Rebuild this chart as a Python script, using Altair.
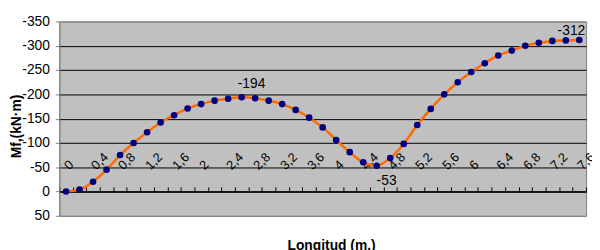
import altair as alt
import pandas as pd
import json

# Category positions along the beam (m), decimal comma as in the original
x_m = ["0", "0,2", "0,4", "0,6", "0,8", "1", "1,2", "1,4", "1,6", "1,8",
       "2", "2,2", "2,4", "2,6", "2,8", "3", "3,2", "3,4", "3,6", "3,8",
       "4", "4,2", "4,4", "4,6", "4,8", "5", "5,2", "5,4", "5,6", "5,8",
       "6", "6,2", "6,4", "6,6", "6,8", "7", "7,2", "7,4", "7,6"]

# Bending moment Mf (kN·m)
mf = [0, -4, -20, -45, -75, -100, -122, -142, -157, -171,
      -180, -187, -191, -194, -192, -187, -180, -168, -152, -132,
      -106, -81, -60, -53, -69, -98, -137, -170, -200, -225,
      -246, -264, -280, -290, -300, -306, -310, -311, -312]

# Labels shown on the category axis
tick_labels = ["0", "0,4", "0,8", "1,2", "1,6", "2", "2,4", "2,8", "3,2", "3,6",
               "4", "4,4", "4,8", "5,2", "5,6", "6", "6,4", "6,8", "7,2", "7,6"]

y_ticks = [-350, -300, -250, -200, -150, -100, -50, 0, 50]

# Annotated extremes
ann_x = ["2,6", "4,6", "7,6"]
ann_y = [-194, -53, -312]
ann_text = ["-194", "-53", "-312"]

df = pd.DataFrame({"x": x_m, "mf": mf})
ann = pd.DataFrame({"x": ann_x, "mf": ann_y, "t": ann_text})

FONT = "Liberation Sans"

xscale = alt.Scale(type="band", domain=x_m, paddingInner=0, paddingOuter=0)
yscale = alt.Scale(domain=[-350, 50], reverse=True, nice=False, zero=False)

label_expr = "indexof(" + json.dumps(tick_labels) + ", datum.label) >= 0 ? datum.label : ''"

x_axis = alt.Axis(
    orient="top", offset=-172.7, title=None,
    domainColor="#000000", domainWidth=1,
    tickColor="#000000", tickSize=5, tickBand="extent",
    labelAngle=-45, labelAlign="left", labelBaseline="middle",
    labelPadding=20, labelFont=FONT, labelFontSize=13, labelColor="#000000",
    labelExpr=label_expr, labelOverlap=False, grid=False,
)

y_axis = alt.Axis(
    values=y_ticks, tickCount=20, title="Mf,(kN·m)",
    titleFont=FONT, titleFontSize=14, titleFontWeight="bold", titleColor="#000000",
    titleX=-43, titleY=106, titleAlign="center", titleBaseline="middle", titleAngle=-90,
    labelFont=FONT, labelFontSize=14, labelColor="#000000", labelPadding=6,
    labelExpr="'' + datum.value", labelOverlap=False, labelFlush=False,
    domainColor="#808080", tickColor="#808080", tickSize=4,
    grid=True,
    gridColor=alt.condition("datum.value == -350 || datum.value == 50",
                            alt.value("#808080"), alt.value("#000000")),
    gridWidth=1,
)

base = alt.Chart(df).encode(
    x=alt.X("x:O", scale=xscale, axis=x_axis, sort=x_m),
    y=alt.Y("mf:Q", scale=yscale, axis=y_axis),
)

line = base.mark_line(color="#ff6a00", strokeWidth=2.5, interpolate="monotone")
pts = base.mark_point(filled=True, color="#000080", size=45, opacity=1)

abase = alt.Chart(ann).encode(
    x=alt.X("x:O", scale=xscale, sort=x_m),
    y=alt.Y("mf:Q", scale=yscale),
    text="t:N",
)
t1 = abase.transform_filter("datum.t == '-194'").mark_text(
    font=FONT, fontSize=14, color="#000000", dx=10, dy=-13)
t2 = abase.transform_filter("datum.t == '-53'").mark_text(
    font=FONT, fontSize=14, color="#000000", dx=10, dy=16)
t3 = abase.transform_filter("datum.t == '-312'").mark_text(
    font=FONT, fontSize=14, color="#000000", dx=-8, dy=-9)

chart = alt.layer(line, pts, t1, t2, t3).properties(
    width=534, height=197,
    autosize="none",
    padding={"left": 52, "top": 12, "right": 6, "bottom": 33},
    title=alt.TitleParams(text="Longitud (m.)", orient="bottom", anchor="middle",
                          font=FONT, fontSize=14, fontWeight="bold", color="#000000",
                          offset=17, dx=9),
).configure_view(fill="#c0c0c0", stroke="#808080", strokeWidth=1)

chart.save("out.html", embed_options={"renderer": "svg", "actions": False})
